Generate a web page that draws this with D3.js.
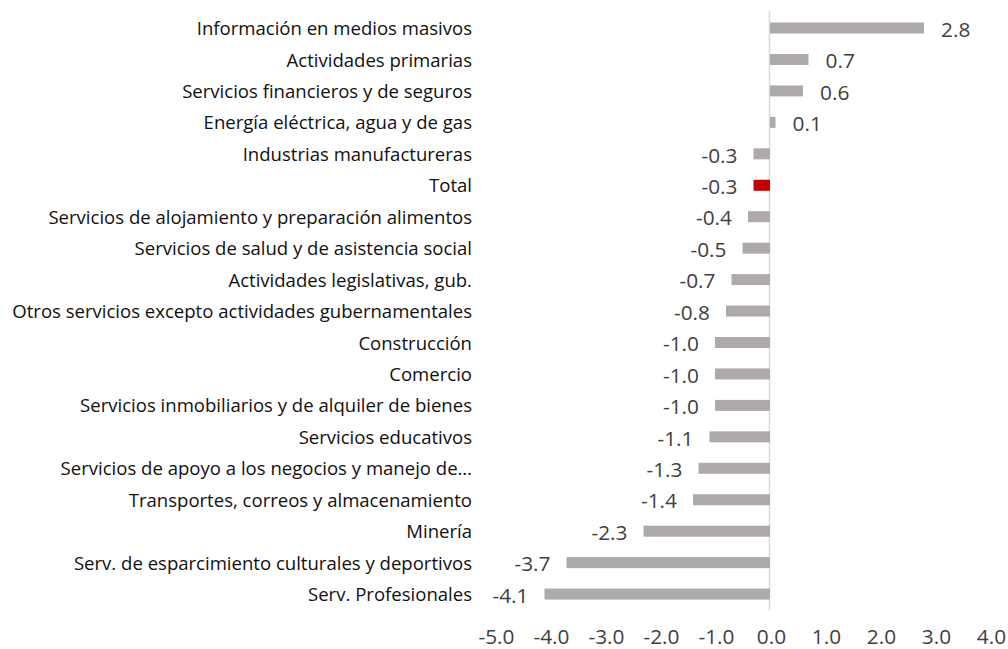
<!DOCTYPE html>
<html><head><meta charset="utf-8">
<script src="https://cdn.jsdelivr.net/npm/d3@7"></script>
<style>body{margin:0;background:#fff}svg{display:block}</style>
</head><body>
<svg id="c" width="1008" height="649"></svg>
<script>
const categories = ["Información en medios masivos","Actividades primarias ","Servicios financieros y de seguros","Energía eléctrica, agua y de gas","Industrias manufactureras","Total","Servicios de alojamiento y preparación alimentos","Servicios de salud y de asistencia social","Actividades legislativas, gub.","Otros servicios excepto actividades gubernamentales","Construcción","Comercio","Servicios inmobiliarios y de alquiler de bienes","Servicios educativos","Servicios de apoyo a los negocios y manejo de…","Transportes, correos y almacenamiento","Minería","Serv. de esparcimiento culturales y deportivos","Serv. Profesionales"];
const values = [2.8,0.7,0.6,0.1,-0.3,-0.3,-0.4,-0.5,-0.7,-0.8,-1.0,-1.0,-1.0,-1.1,-1.3,-1.4,-2.3,-3.7,-4.1];
const highlight = ["Total"];
const xTicks = [-5,-4,-3,-2,-1,0,1,2,3,4];

const svg = d3.select("#c");
const font = "'Open Sans', sans-serif";
const fmt = v => d3.format(".1f")(v).replace("\u2212","-");
const x = d3.scaleLinear().domain([-5,4]).range([495,990]);
const y = d3.scaleBand().domain(categories).range([12.3,609.8]).paddingInner(0.65).paddingOuter(0.325);

// fit font sizes to the reference widths
function fitSize(str, target){
  const t = svg.append("text").attr("font-family",font).attr("font-size",20).text(str);
  const w = t.node().getComputedTextLength(); t.remove();
  return 20*target/w;
}
const catSize = fitSize("Otros servicios excepto actividades gubernamentales", 460);
const numSize = fitSize("-5.0", 36);

// zero axis line
svg.append("line").attr("x1",x(0)-0.5).attr("x2",x(0)-0.5).attr("y1",11).attr("y2",610)
  .attr("stroke","#d9d9d9").attr("stroke-width",1.5);

svg.selectAll("rect.bar").data(categories).join("rect")
  .attr("x",(d,i)=>Math.min(x(0),x(values[i])))
  .attr("width",(d,i)=>Math.abs(x(values[i])-x(0)))
  .attr("y",d=>y(d)).attr("height",y.bandwidth())
  .attr("fill",d=>highlight.includes(d)?"#c00000":"#aeaaaa");

// value labels
svg.selectAll("text.val").data(categories).join("text")
  .attr("x",(d,i)=>values[i]>=0? x(values[i])+17 : x(values[i])-16)
  .attr("y",d=>y(d)+y.bandwidth()/2)
  .attr("dy","0.42em")
  .attr("text-anchor",(d,i)=>values[i]>=0?"start":"end")
  .attr("font-family",font).attr("font-size",numSize).attr("fill","#404040")
  .text((d,i)=>fmt(values[i]));

// category labels
svg.selectAll("text.cat").data(categories).join("text")
  .attr("x",472).attr("y",d=>y(d)+y.bandwidth()/2).attr("dy","0.38em")
  .attr("text-anchor","end").attr("font-family",font).attr("font-size",catSize).attr("fill","#111")
  .text(d=>d);

// x tick labels
const xa = d3.axisBottom(x).tickValues(xTicks).tickFormat(fmt).tickSize(0).tickPadding(0);
const g = svg.append("g").attr("transform","translate(1,629)").call(xa);
g.select(".domain").remove();
g.selectAll("text").attr("font-family",font).attr("font-size",numSize).attr("fill","#404040");
</script>
</body></html>
